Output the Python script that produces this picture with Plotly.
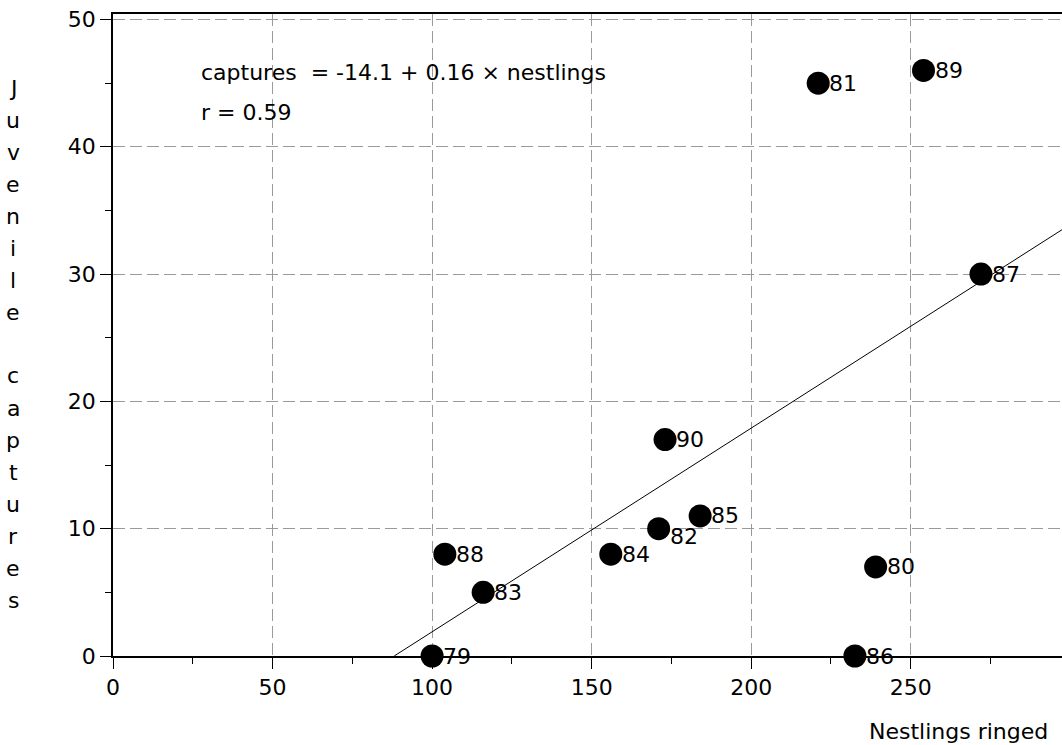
import plotly.graph_objects as go

# ---- data ----
years = ["79", "80", "81", "82", "83", "84", "85", "86", "87", "88", "89", "90"]
nestlings = [100, 239, 221, 171, 116, 156, 184, 232.5, 272, 104, 254, 173]
captures = [0, 7, 45, 10, 5, 8, 11, 0, 30, 8, 46, 17]
intercept = -14.1
slope = 0.16
r_value = 0.59
x_ticks = [0, 50, 100, 150, 200, 250]
y_ticks = [0, 10, 20, 30, 40, 50]

FONT = "DejaVu Sans"
FS = 22

W, H = 1062, 745
ML, MR, MT, MB = 113, 0, 14, 89
X_RANGE = [0, 297.4]
Y_RANGE = [0, 50.43]

fig = go.Figure()

# regression line from x-intercept to right edge
x0 = -intercept / slope
x1 = X_RANGE[1] + 5
fig.add_trace(go.Scatter(
    x=[x0, x1], y=[intercept + slope * x0, intercept + slope * x1],
    mode="lines", line=dict(color="black", width=1),
    hoverinfo="skip", showlegend=False, cliponaxis=True))

fig.add_trace(go.Scatter(
    x=nestlings, y=captures, mode="markers",
    marker=dict(color="black", size=23, line=dict(width=0)),
    cliponaxis=False, showlegend=False))

label_dy = {"82": -8}
for yr, xv, yv in zip(years, nestlings, captures):
    fig.add_annotation(x=xv, y=yv, xref="x", yref="y", text=yr, showarrow=False,
                       xanchor="left", yanchor="middle", xshift=9,
                       yshift=label_dy.get(yr, 0),
                       font=dict(family=FONT, size=FS, color="black"))

plot_h = H - MT - MB
plot_w = W - ML - MR

def py(ypix):
    return (H - MB - ypix) / plot_h

def px(xpix):
    return (xpix - ML) / plot_w

fig.add_annotation(xref="paper", yref="paper", x=px(199), y=py(72),
                   text=f"captures\u00a0\u00a0= {intercept} + {slope} \u00d7 nestlings",
                   showarrow=False, xanchor="left", yanchor="middle",
                   font=dict(family=FONT, size=FS, color="black"))
fig.add_annotation(xref="paper", yref="paper", x=px(199), y=py(112),
                   text=f"r = {r_value}",
                   showarrow=False, xanchor="left", yanchor="middle",
                   font=dict(family=FONT, size=FS, color="black"))

# x-axis title
fig.add_annotation(xref="paper", yref="paper", x=px(1050), y=py(731),
                   text="Nestlings ringed", showarrow=False,
                   xanchor="right", yanchor="middle",
                   font=dict(family=FONT, size=FS, color="black"))

# y-axis title, stacked letters
ytitle = "Juvenile captures"
for i, ch in enumerate(ytitle):
    if ch == " ":
        continue
    fig.add_annotation(xref="paper", yref="paper", x=px(13), y=py(88 + 32 * i),
                       text=ch, showarrow=False, xanchor="center", yanchor="middle",
                       font=dict(family=FONT, size=FS, color="black"))

grid = dict(showgrid=True, gridcolor="#9a9a9a", gridwidth=1, griddash="12px,5px")

fig.update_xaxes(range=X_RANGE, tickvals=x_ticks, ticks="outside", ticklen=11,
                 tickcolor="black", tickwidth=1.3,
                 minor=dict(dtick=25, ticks="outside", ticklen=6, tickcolor="black",
                            showgrid=False),
                 showline=True, linecolor="black", linewidth=1.6, mirror=True,
                 zeroline=False,
                 tickfont=dict(family=FONT, size=FS, color="black"), **grid)
fig.update_yaxes(range=Y_RANGE, tickvals=y_ticks, ticks="outside", ticklen=11,
                 tickcolor="black", tickwidth=1.3,
                 minor=dict(dtick=5, ticks="outside", ticklen=6, tickcolor="black",
                            showgrid=False),
                 showline=True, linecolor="black", linewidth=1.6,
                 zeroline=False,
                 tickfont=dict(family=FONT, size=FS, color="black"), **grid)

fig.update_layout(width=W, height=H, margin=dict(l=ML, r=MR, t=MT, b=MB),
                  plot_bgcolor="white", paper_bgcolor="white",
                  font=dict(family=FONT, size=FS, color="black"),
                  showlegend=False)

fig.write_html("out.html", config={"displayModeBar": False},
               post_script="document.body.style.margin='0';document.body.style.overflow='hidden';")
